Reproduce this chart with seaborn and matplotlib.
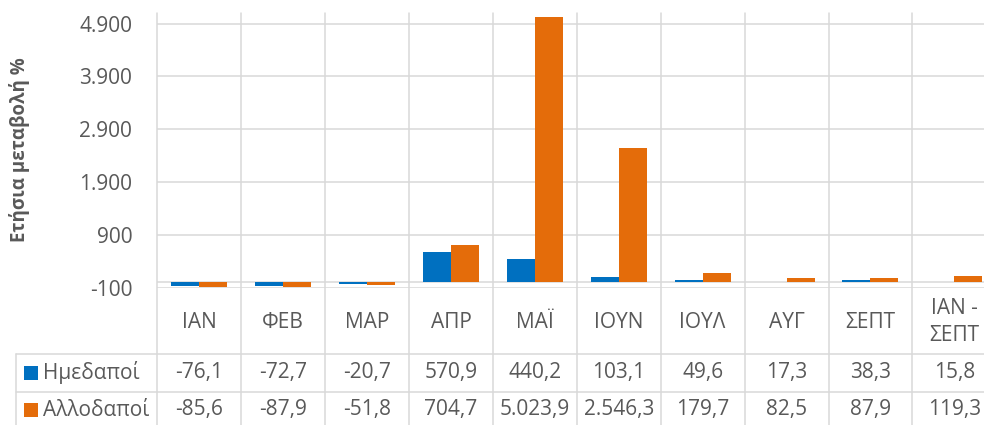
import pandas as pd
import matplotlib
matplotlib.use('Agg')
import matplotlib.pyplot as plt
import seaborn as sns
from matplotlib.patches import Rectangle

months = ['ΙΑΝ', 'ΦΕΒ', 'ΜΑΡ', 'ΑΠΡ', 'ΜΑΪ', 'ΙΟΥΝ', 'ΙΟΥΛ', 'ΑΥΓ', 'ΣΕΠΤ', 'ΙΑΝ -\nΣΕΠΤ']
series = ['Ημεδαποί', 'Αλλοδαποί']
domestic = [-76.1, -72.7, -20.7, 570.9, 440.2, 103.1, 49.6, 17.3, 38.3, 15.8]
foreign = [-85.6, -87.9, -51.8, 704.7, 5023.9, 2546.3, 179.7, 82.5, 87.9, 119.3]
yticks = [-100, 900, 1900, 2900, 3900, 4900]
colors = ['#0070C0', '#E46C0A']
text_col = '#595959'
grid_col = '#D9D9D9'

sns.set_style('white')
plt.rcParams['font.family'] = ['Open Sans', 'DejaVu Sans']

df = pd.DataFrame({
    'month': months * 2,
    'value': domestic + foreign,
    'series': [series[0]] * len(months) + [series[1]] * len(months),
})

W, H = 984, 425
fig = plt.figure(figsize=(W / 100, H / 100), dpi=100)
ax_l, ax_r, ax_t, ax_b = 157.3, 996.3, 13, 287.7
ax = fig.add_axes([ax_l / W, 1 - ax_b / H, (ax_r - ax_l) / W, (ax_b - ax_t) / H])

sns.barplot(data=df, x='month', y='value', hue='series', order=months,
            hue_order=series, palette=colors, saturation=1, width=2 / 3,
            errorbar=None, linewidth=0, legend=False, ax=ax, zorder=3)

ax.set_xlim(-0.5, len(months) - 0.5)
ax.set_ylim(-100, 5100)
ax.set_yticks(yticks)
ax.set_yticklabels([f'{v:,}'.replace(',', '.') for v in yticks], color=text_col, fontsize=15)
ax.tick_params(axis='y', length=0, pad=18)
ax.tick_params(axis='x', length=0, labelbottom=False)
ax.set_xlabel('')
ax.set_ylabel('')
sns.despine(ax=ax, left=True, bottom=True)
ax.yaxis.grid(True, color=grid_col, lw=1.1, zorder=0)
ax.set_axisbelow(True)
ax.axhline(0, color=grid_col, lw=1.1, zorder=1)

fig.text(20 / W, 1 - 150 / H, 'Ετήσια μεταβολή %', rotation=90, ha='center', va='center',
         fontsize=13.5, fontweight='bold', color=text_col)


def ay(py):
    return (ax_b - py) / (ax_b - ax_t)


def axx(px):
    return (px - ax_l) / (ax_r - ax_l)


xt = ax.get_xaxis_transform()
bottom = ay(432)
for i in range(len(months) + 1):
    ax.plot([i - 0.5, i - 0.5], [bottom, 1], transform=xt, color=grid_col, lw=1.1,
            clip_on=False, zorder=0)
for py in [354, 392]:
    ax.plot([axx(16), 1], [ay(py), ay(py)], transform=ax.transAxes, color=grid_col,
            lw=1.1, clip_on=False)
ax.plot([axx(16), axx(16)], [ay(354), bottom], transform=ax.transAxes, color=grid_col,
        lw=1.1, clip_on=False)


def fmt(v):
    return f'{v:,.1f}'.replace(',', '#').replace('.', ',').replace('#', '.')


for i, m in enumerate(months):
    ax.text(i, ay(322), m, transform=xt, ha='center', va='center', fontsize=15,
            color=text_col, linespacing=1.35, clip_on=False)
    ax.text(i, ay(373), fmt(domestic[i]), transform=xt, ha='center', va='center',
            fontsize=15, color=text_col, clip_on=False)
    ax.text(i, ay(410), fmt(foreign[i]), transform=xt, ha='center', va='center',
            fontsize=15, color=text_col, clip_on=False)

for name, col, py in zip(series, colors, [373, 410]):
    fig.patches.append(Rectangle((24 / W, 1 - (py + 7) / H), 14 / W, 14 / H,
                                 transform=fig.transFigure, color=col, lw=0))
    fig.text(43 / W, 1 - py / H, name, ha='left', va='center', fontsize=15, color=text_col)

fig.savefig('out.png', dpi=100)
